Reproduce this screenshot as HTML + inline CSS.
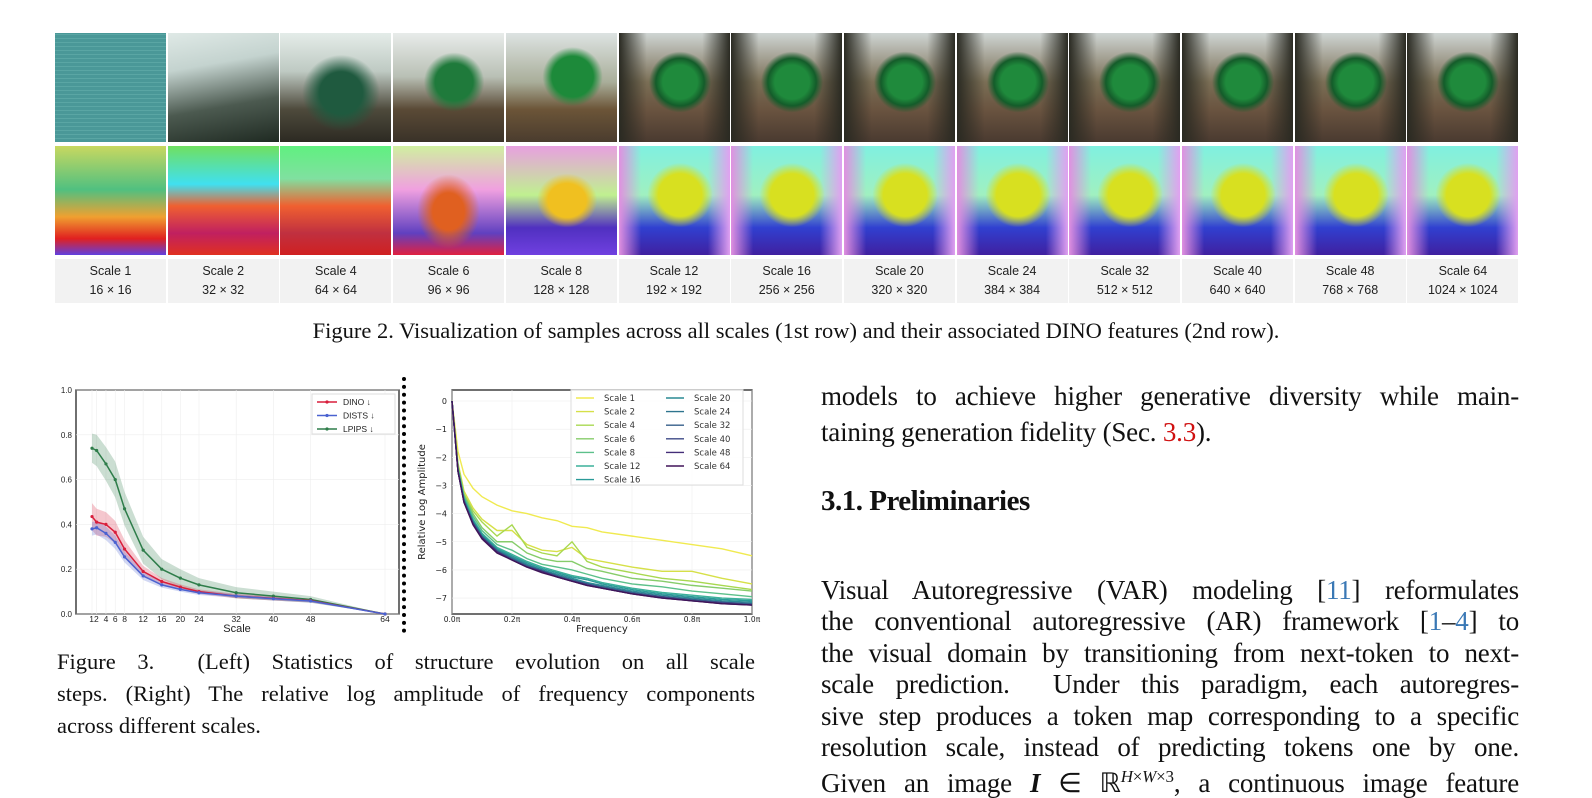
<!DOCTYPE html>
<html><head><meta charset="utf-8">
<style>
body{margin:0;width:1592px;height:783px;background:#fff;position:relative;overflow:hidden;font-family:"Liberation Serif",serif;color:#111}
.tile{position:absolute;width:111px;height:109px}
.lab{position:absolute;top:259px;width:111px;height:44px;background:#f2f2f2;font-family:"Liberation Sans",sans-serif;font-size:12.5px;text-align:center;line-height:19px;padding-top:3px;box-sizing:border-box;color:#222}
.ln{position:absolute;left:821px;width:698px;font-size:27px;text-align:justify;text-align-last:justify;white-space:nowrap;line-height:30px;letter-spacing:-0.2px}
.cap{position:absolute;left:57px;width:698px;font-size:22.5px;text-align:justify;text-align-last:justify;white-space:nowrap;line-height:26px}
.r{color:#d01010}.b{color:#3a78b5}
</style></head><body>
<div id="tiles"></div>
<div style="position:absolute;top:318px;left:0;width:1592px;text-align:center;font-size:22.5px">Figure 2. Visualization of samples across all scales (1st row) and their associated DINO features (2nd row).</div>

<svg id="left" style="position:absolute;left:0;top:370px" width="405" height="270"></svg>
<div style="position:absolute;left:402px;top:377px;height:256px;border-left:4px dotted #000"></div>
<svg id="right" style="position:absolute;left:405px;top:370px" width="360" height="270"></svg>

<div class="cap" style="top:649px">Figure 3. &nbsp;(Left) Statistics of structure evolution on all scale</div>
<div class="cap" style="top:681px">steps. (Right) The relative log amplitude of frequency components</div>
<div style="position:absolute;left:57px;top:713px;font-size:22.5px;line-height:26px">across different scales.</div>

<div class="ln" style="top:381px">models to achieve higher generative diversity while main-</div>
<div style="position:absolute;left:821px;top:417px;font-size:27px;line-height:30px;letter-spacing:-0.2px">taining generation fidelity (Sec. <span class="r">3.3</span>).</div>
<div style="position:absolute;left:821px;top:484px;font-size:29px;font-weight:bold;line-height:34px;letter-spacing:-0.5px">3.1. Preliminaries</div>
<div class="ln" style="top:575px">Visual Autoregressive (VAR) modeling [<span class="b">11</span>] reformulates</div>
<div class="ln" style="top:606px">the conventional autoregressive (AR) framework [<span class="b">1</span>–<span class="b">4</span>] to</div>
<div class="ln" style="top:638px">the visual domain by transitioning from next-token to next-</div>
<div class="ln" style="top:669px">scale prediction. &nbsp;Under this paradigm, each autoregres-</div>
<div class="ln" style="top:701px">sive step produces a token map corresponding to a specific</div>
<div class="ln" style="top:732px">resolution scale, instead of predicting tokens one by one.</div>
<div class="ln" style="top:762px">Given an image <i><b>I</b></i> ∈ ℝ<sup style="font-size:17px"><i>H</i>×<i>W</i>×3</sup>, a continuous image feature</div>

<script>
const tileScales=[1,2,4,6,8,12,16,20,24,32,40,48,64];
const tileRes=[16,32,64,96,128,192,256,320,384,512,640,768,1024];
const topBg=[
"repeating-linear-gradient(0deg,#4a9898 0 3px,#5aa6a4 3px 4px)",
"linear-gradient(170deg,#dfe9e6 0%,#c4d3cf 30%,#4c5a50 65%,#1f2a22 100%)",
"radial-gradient(ellipse at 55% 55%,#1f5a3f 0 25%,transparent 45%),linear-gradient(180deg,#e4ece9 0%,#bfcac3 35%,#4e4a3c 70%,#2c2a22 100%)",
"radial-gradient(ellipse at 55% 45%,#1f7a3b 0 22%,transparent 35%),linear-gradient(180deg,#e8ecea 0%,#b9c0b5 40%,#5a4a36 70%,#3a3228 100%)",
"radial-gradient(ellipse at 60% 40%,#1d8a3a 0 22%,transparent 32%),linear-gradient(180deg,#dde3e2 0%,#a9ae9a 45%,#6c5538 70%,#4a3c2e 100%)"];
const trainBg="radial-gradient(ellipse at 55% 45%,#1f8a3c 0 20%,#145c2a 28%,transparent 36%),linear-gradient(90deg,#2a2a22 0%,transparent 25%,transparent 75%,#2a2a22 100%),linear-gradient(180deg,#cfd5d3 0%,#7a6e55 45%,#6a5440 70%,#4a3a30 100%)";
const botBg=[
"linear-gradient(180deg,#c8d860 0%,#50c080 40%,#f0a030 65%,#e02020 85%,#6040e0 100%)",
"linear-gradient(180deg,#70e060 0%,#40e0f0 35%,#f06030 55%,#c02060 80%,#e03020 100%)",
"linear-gradient(180deg,#60f080 0%,#80e0a0 30%,#f06030 55%,#c03040 80%,#d02020 100%)",
"radial-gradient(ellipse at 50% 60%,#e06020 0 20%,transparent 40%),linear-gradient(180deg,#d0f0a0 0%,#f0a0e0 40%,#6040c0 80%,#e02040 100%)",
"radial-gradient(ellipse at 55% 50%,#f0c020 0 22%,transparent 35%),linear-gradient(180deg,#e8a0e0 0%,#c0f090 45%,#5030c0 75%,#7040e0 100%)"];
const featBg="radial-gradient(ellipse at 55% 45%,#d8e020 0 25%,transparent 38%),linear-gradient(90deg,#e090e0 0%,transparent 20%,transparent 80%,#e0a0f0 100%),linear-gradient(180deg,#80f0e0 0%,#a0f0c0 45%,#3040d0 75%,#4020a0 100%)";
const tiles=document.getElementById('tiles');
tileScales.forEach((s,i)=>{
  const x=55+i*112.7;
  const a=document.createElement('div');a.className='tile';
  
  
  a.style.left=x+'px';a.style.top='33px';a.style.background=i<5?topBg[i]:trainBg;tiles.appendChild(a);
  const b=document.createElement('div');b.className='tile';
  
  
  b.style.left=x+'px';b.style.top='146px';b.style.background=i<5?botBg[i]:featBg;tiles.appendChild(b);
  const l=document.createElement('div');l.className='lab';
  
  
  l.style.left=x+'px';l.innerHTML='Scale '+s+'<br>'+tileRes[i]+' × '+tileRes[i];tiles.appendChild(l);
});

const NS='http://www.w3.org/2000/svg';
function el(p,t,a){const e=document.createElementNS(NS,t);for(const k in a)e.setAttribute(k,a[k]);p.appendChild(e);return e;}

const scales=[1,2,4,6,8,12,16,20,24,32,40,48,64];
const dino=[0.435,0.41,0.40,0.365,0.29,0.19,0.145,0.12,0.10,0.08,0.07,0.06,0.0];
const dinoStd=[0.06,0.06,0.055,0.05,0.04,0.025,0.015,0.012,0.01,0.01,0.01,0.008,0.0];
const dists=[0.38,0.385,0.36,0.32,0.255,0.17,0.13,0.11,0.095,0.08,0.068,0.058,0.0];
const distsStd=[0.03,0.03,0.03,0.03,0.025,0.018,0.012,0.01,0.01,0.008,0.008,0.007,0.0];
const lpips=[0.74,0.73,0.67,0.60,0.47,0.285,0.20,0.16,0.13,0.095,0.08,0.065,0.0];
const lpipsStd=[0.065,0.07,0.075,0.08,0.075,0.06,0.045,0.04,0.03,0.025,0.02,0.015,0.0];
const leftYTicks=[0,0.2,0.4,0.6,0.8,1.0];
const leftXTicks=[1,2,4,6,8,12,16,20,24,32,40,48,64];

(function(){
const s=document.getElementById('left');
const X=v=>92+(v-1)*(293/63), Y=v=>244-v*224;
el(s,'rect',{x:76,y:20,width:323,height:224,fill:'#fff',stroke:'#222','stroke-width':1.3,});
leftYTicks.forEach(t=>{el(s,'line',{x1:76,x2:399,y1:Y(t),y2:Y(t),stroke:'#eee','stroke-width':0.6});
 const tx=el(s,'text',{x:72,y:Y(t)+3,'font-size':8,'text-anchor':'end','font-family':'Liberation Sans',fill:'#222'});tx.textContent=t.toFixed(1);});
leftXTicks.forEach(t=>{el(s,'line',{x1:X(t),x2:X(t),y1:20,y2:244,stroke:'#eee','stroke-width':0.6});
 const tx=el(s,'text',{x:X(t),y:252,'font-size':8.5,'text-anchor':'middle','font-family':'Liberation Sans',fill:'#222'});tx.textContent=(t==1||t==2)?'':t;});
const t12=el(s,'text',{x:94,y:252,'font-size':8.5,'text-anchor':'middle','font-family':'Liberation Sans',fill:'#222'});t12.textContent='12';
const xl=el(s,'text',{x:237,y:262,'font-size':11,'text-anchor':'middle','font-family':'Liberation Sans',fill:'#222'});xl.textContent='Scale';
const series=[[lpips,lpipsStd,'#2e7d4a','lpips'],[dino,dinoStd,'#d81e3c','dino'],[dists,distsStd,'#4a62d0','dists']];
series.forEach(([v,sd,c,n])=>{
 let d='';scales.forEach((x,i)=>d+=(i?'L':'M')+X(x)+','+Y(v[i]+sd[i]));
 for(let i=scales.length-1;i>=0;i--)d+='L'+X(scales[i])+','+Y(v[i]-sd[i]);
 const b=el(s,'path',{d:d+'Z',fill:c,'fill-opacity':0.25});
 
 
});
series.forEach(([v,sd,c,n])=>{
 const p=el(s,'polyline',{points:scales.map((x,i)=>X(x)+','+Y(v[i])).join(' '),fill:'none',stroke:c,'stroke-width':1.5});
 
 
 scales.forEach((x,i)=>el(s,'circle',{cx:X(x),cy:Y(v[i]),r:1.6,fill:c}));
});
const lg=el(s,'g',{});


el(lg,'rect',{x:312,y:24,width:83,height:40,fill:'#fff',stroke:'#ddd'});
[['DINO ↓','#d81e3c'],['DISTS ↓','#4a62d0'],['LPIPS ↓','#2e7d4a']].forEach(([t,c],i)=>{
 const y=32+i*13.5;el(lg,'line',{x1:317,x2:337,y1:y,y2:y,stroke:c,'stroke-width':1.5});el(lg,'circle',{cx:327,cy:y,r:1.6,fill:c});
 const tx=el(lg,'text',{x:343,y:y+3,'font-size':8.5,'font-family':'Liberation Sans',fill:'#222'});tx.textContent=t;});
})();

const freqs=[0,0.02,0.04,0.07,0.1,0.15,0.2,0.25,0.3,0.35,0.4,0.45,0.5,0.6,0.7,0.8,0.9,1.0];
const ampScale1=[0,-1.8,-2.6,-3.1,-3.4,-3.7,-3.9,-4.0,-4.15,-4.25,-4.45,-4.5,-4.65,-4.8,-4.95,-5.1,-5.25,-5.5];
const ampScale2=[0,-2.2,-3.2,-3.8,-4.2,-4.6,-4.6,-5.1,-5.3,-5.35,-5.2,-5.6,-5.7,-5.9,-6.05,-6.05,-6.3,-6.5];
const ampScale4=[0,-2.3,-3.3,-3.9,-4.3,-4.8,-4.4,-5.2,-5.4,-5.5,-5.0,-5.7,-5.9,-6.1,-6.3,-6.4,-6.55,-6.7];
const ampScale6=[0,-2.3,-3.35,-4.0,-4.5,-5.0,-5.0,-5.4,-5.6,-5.7,-5.7,-5.95,-6.05,-6.3,-6.4,-6.55,-6.65,-6.75];
const ampScale8=[0,-2.4,-3.4,-4.1,-4.6,-5.1,-5.3,-5.6,-5.8,-5.9,-6.0,-6.15,-6.3,-6.5,-6.6,-6.75,-6.85,-6.95];
const ampScale12=[0,-2.4,-3.45,-4.2,-4.7,-5.2,-5.45,-5.7,-5.9,-6.05,-6.2,-6.3,-6.45,-6.65,-6.8,-6.9,-7.0,-7.05];
const ampScale16=[0,-2.45,-3.5,-4.25,-4.75,-5.25,-5.5,-5.75,-5.95,-6.1,-6.25,-6.35,-6.5,-6.7,-6.85,-6.95,-7.05,-7.1];
const ampScale20=[0,-2.45,-3.5,-4.3,-4.8,-5.3,-5.55,-5.8,-6.0,-6.15,-6.3,-6.45,-6.55,-6.75,-6.9,-7.0,-7.1,-7.15];
const ampScale24=[0,-2.5,-3.55,-4.3,-4.8,-5.3,-5.6,-5.85,-6.0,-6.2,-6.35,-6.5,-6.6,-6.8,-6.95,-7.05,-7.15,-7.2];
const ampScale32=[0,-2.5,-3.55,-4.35,-4.85,-5.35,-5.6,-5.85,-6.05,-6.2,-6.35,-6.5,-6.6,-6.8,-6.95,-7.05,-7.15,-7.2];
const ampScale40=[0,-2.5,-3.6,-4.35,-4.85,-5.35,-5.65,-5.9,-6.05,-6.25,-6.4,-6.5,-6.65,-6.85,-6.95,-7.1,-7.15,-7.25];
const ampScale48=[0,-2.5,-3.6,-4.35,-4.85,-5.35,-5.65,-5.9,-6.05,-6.25,-6.4,-6.55,-6.65,-6.85,-7.0,-7.1,-7.2,-7.25];
const ampScale64=[0,-2.5,-3.6,-4.4,-4.9,-5.4,-5.65,-5.9,-6.1,-6.25,-6.4,-6.55,-6.65,-6.85,-7.0,-7.1,-7.2,-7.25];
const rightYTicks=[0,-1,-2,-3,-4,-5,-6,-7];
const rightXTicks=[0,0.2,0.4,0.6,0.8,1.0];

(function(){
const s=document.getElementById('right');
const X=v=>47+v*300, Y=v=>31-v*28.15;
const names=['Scale 1','Scale 2','Scale 4','Scale 6','Scale 8','Scale 12','Scale 16','Scale 20','Scale 24','Scale 32','Scale 40','Scale 48','Scale 64'];
const data=[ampScale1,ampScale2,ampScale4,ampScale6,ampScale8,ampScale12,ampScale16,ampScale20,ampScale24,ampScale32,ampScale40,ampScale48,ampScale64];
const cols=['#f0ea50','#d6e048','#a8d850','#86cc6a','#5cc08a','#3bb09a','#2a9a98','#2a8a94','#2e748e','#355e8a','#3d4886','#442e78','#401458'];
el(s,'rect',{x:47,y:20,width:300,height:224,fill:'#fff',stroke:'#222','stroke-width':1.3,});
rightYTicks.forEach(t=>{el(s,'line',{x1:47,x2:347,y1:Y(t),y2:Y(t),stroke:'#eee','stroke-width':0.6});
 const tx=el(s,'text',{x:42,y:Y(t)+3,'font-size':8,'text-anchor':'end','font-family':'DejaVu Sans',fill:'#222'});tx.textContent=t<0?'−'+(-t):'0';});
rightXTicks.forEach(t=>{el(s,'line',{x1:X(t),x2:X(t),y1:20,y2:244,stroke:'#eee','stroke-width':0.6});
 const tx=el(s,'text',{x:X(t),y:252,'font-size':7.5,'text-anchor':'middle','font-family':'DejaVu Sans',fill:'#222'});tx.textContent=t.toFixed(1)+'π';});
const xl=el(s,'text',{x:197,y:262,'font-size':10,'text-anchor':'middle','font-family':'DejaVu Sans',fill:'#222'});xl.textContent='Frequency';
const yl=el(s,'text',{x:0,y:0,'font-size':10,'text-anchor':'middle','font-family':'DejaVu Sans',fill:'#222',transform:'translate(20,132) rotate(-90)'});yl.textContent='Relative Log Amplitude';
data.forEach((d,k)=>{
 const p=el(s,'polyline',{points:freqs.map((f,i)=>X(f)+','+Y(d[i])).join(' '),fill:'none',stroke:cols[k],'stroke-width':1.4});
 
 
});
const lg=el(s,'g',{});


el(lg,'rect',{x:166,y:20,width:172,height:95,fill:'#fff','fill-opacity':0.85,stroke:'#ddd'});
names.forEach((n,k)=>{const c=k<7?0:1,r=k<7?k:k-7;const x=171+c*90,y=28+r*13.6;
 el(lg,'line',{x1:x,x2:x+18,y1:y,y2:y,stroke:cols[k],'stroke-width':1.4});
 const tx=el(lg,'text',{x:x+28,y:y+3,'font-size':8.5,'font-family':'DejaVu Sans',fill:'#333'});tx.textContent=n;});
})();
</script>
</body></html>
